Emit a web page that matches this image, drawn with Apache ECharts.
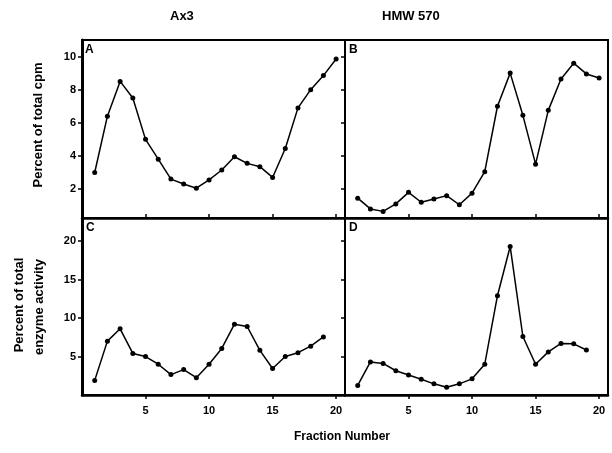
<!DOCTYPE html>
<html>
<head>
<meta charset="utf-8">
<script src="https://cdn.jsdelivr.net/npm/echarts@6/dist/echarts.min.js"></script>
<style>
  html, body { margin: 0; padding: 0; background: #fff; }
  #chart { width: 612px; height: 453px; }
</style>
</head>
<body>
<div id="chart"></div>
<script>
// fraction numbers
var fractions = [1, 2, 3, 4, 5, 6, 7, 8, 9, 10, 11, 12, 13, 14, 15, 16, 17, 18, 19, 20];
// percent of total cpm
var cpmAx3 = [3.0, 6.4, 8.5, 7.5, 5.0, 3.8, 2.6, 2.3, 2.05, 2.55, 3.15, 3.95, 3.55, 3.35, 2.7, 4.45, 6.9, 8.0, 8.85, 9.85];
var cpmHmw = [1.45, 0.8, 0.65, 1.1, 1.8, 1.2, 1.4, 1.6, 1.05, 1.75, 3.05, 7.0, 9.0, 6.45, 3.5, 6.75, 8.65, 9.6, 8.95, 8.7];
// percent of total enzyme activity (19 fractions)
var enzAx3 = [1.9, 7.0, 8.6, 5.4, 5.0, 4.0, 2.65, 3.3, 2.25, 4.0, 6.05, 9.2, 8.9, 5.8, 3.45, 5.0, 5.5, 6.35, 7.55];
var enzHmw = [1.25, 4.3, 4.1, 3.15, 2.6, 2.05, 1.45, 1.0, 1.45, 2.1, 4.0, 12.9, 19.3, 7.6, 4.0, 5.6, 6.7, 6.65, 5.85];
// tick labels
var xTicks = [5, 10, 15, 20];
var cpmTicks = [2, 4, 6, 8, 10];
var enzTicks = [5, 10, 15, 20];

var font = "'Liberation Sans', Arial, sans-serif";
var chart = echarts.init(document.getElementById("chart"));

function pairs(vals) {
  return vals.map(function (v, i) { return [fractions[i], v]; });
}

function xAxisFor(idx, showLabels) {
  return {
    type: "value", gridIndex: idx, min: 0, max: 20.7,
    axisLine: { show: true, onZero: false, lineStyle: { color: "#000", width: 2.5 } },
    axisTick: { show: true, inside: !showLabels, length: 4, lineStyle: { color: "#000", width: 1.5 },
      customValues: xTicks },
    axisLabel: {
      show: showLabels, color: "#000", fontFamily: font, fontWeight: "bold", fontSize: 11, margin: 10,
      customValues: xTicks
    },
    splitLine: { show: false }
  };
}

function yAxisFor(idx, min, max, ticks, showLabels) {
  return {
    type: "value", gridIndex: idx, min: min, max: max,
    axisLine: { show: true, lineStyle: { color: "#000", width: showLabels ? 3 : 2 } },
    axisTick: { show: true, length: 4, lineStyle: { color: "#000", width: 1.5 }, customValues: ticks },
    axisLabel: {
      show: showLabels, color: "#000", fontFamily: font, fontWeight: "bold", fontSize: 11, margin: 6,
      customValues: ticks
    },
    splitLine: { show: false }
  };
}

function lineSeries(idx, vals) {
  return {
    type: "line", xAxisIndex: idx, yAxisIndex: idx, data: pairs(vals),
    symbol: "circle", symbolSize: 5, clip: false,
    lineStyle: { color: "#000", width: 1.5 },
    itemStyle: { color: "#000" }
  };
}

var border = { show: true, borderColor: "#000", borderWidth: 2, backgroundColor: "transparent" };

chart.setOption({
  animation: false,
  grid: [
    Object.assign({ left: 82, top: 40, width: 263, height: 178 }, border),
    Object.assign({ left: 345, top: 40, width: 263, height: 178 }, border),
    Object.assign({ left: 82, top: 218, width: 263, height: 177 }, border),
    Object.assign({ left: 345, top: 218, width: 263, height: 177 }, border)
  ],
  xAxis: [xAxisFor(0, false), xAxisFor(1, false), xAxisFor(2, true), xAxisFor(3, true)],
  yAxis: [
    yAxisFor(0, 0.25, 11, cpmTicks, true), yAxisFor(1, 0.25, 11, cpmTicks, false),
    yAxisFor(2, 0, 23, enzTicks, true), yAxisFor(3, 0, 23, enzTicks, false)
  ],
  series: [lineSeries(0, cpmAx3), lineSeries(1, cpmHmw), lineSeries(2, enzAx3), lineSeries(3, enzHmw)],
  graphic: [
    { type: "text", left: 170, top: 10, style: { text: "Ax3", font: "bold 13px " + font, fill: "#000" } },
    { type: "text", left: 382, top: 10, style: { text: "HMW 570", font: "bold 13px " + font, fill: "#000" } },
    { type: "text", left: 85, top: 44, style: { text: "A", font: "bold 12px " + font, fill: "#000" } },
    { type: "text", left: 349, top: 44, style: { text: "B", font: "bold 12px " + font, fill: "#000" } },
    { type: "text", left: 86, top: 222, style: { text: "C", font: "bold 12px " + font, fill: "#000" } },
    { type: "text", left: 349, top: 222, style: { text: "D", font: "bold 12px " + font, fill: "#000" } },
    { type: "text", x: 38, y: 125, rotation: Math.PI / 2,
      style: { text: "Percent of total cpm", font: "bold 13px " + font, fill: "#000", align: "center", verticalAlign: "middle" } },
    { type: "text", x: 19, y: 305, rotation: Math.PI / 2,
      style: { text: "Percent of total", font: "bold 13px " + font, fill: "#000", align: "center", verticalAlign: "middle" } },
    { type: "text", x: 39, y: 307, rotation: Math.PI / 2,
      style: { text: "enzyme activity", font: "bold 13px " + font, fill: "#000", align: "center", verticalAlign: "middle" } },
    { type: "text", x: 342, y: 437,
      style: { text: "Fraction Number", font: "bold 12px " + font, fill: "#000", align: "center", verticalAlign: "middle" } }
  ]
});
</script>
</body>
</html>
